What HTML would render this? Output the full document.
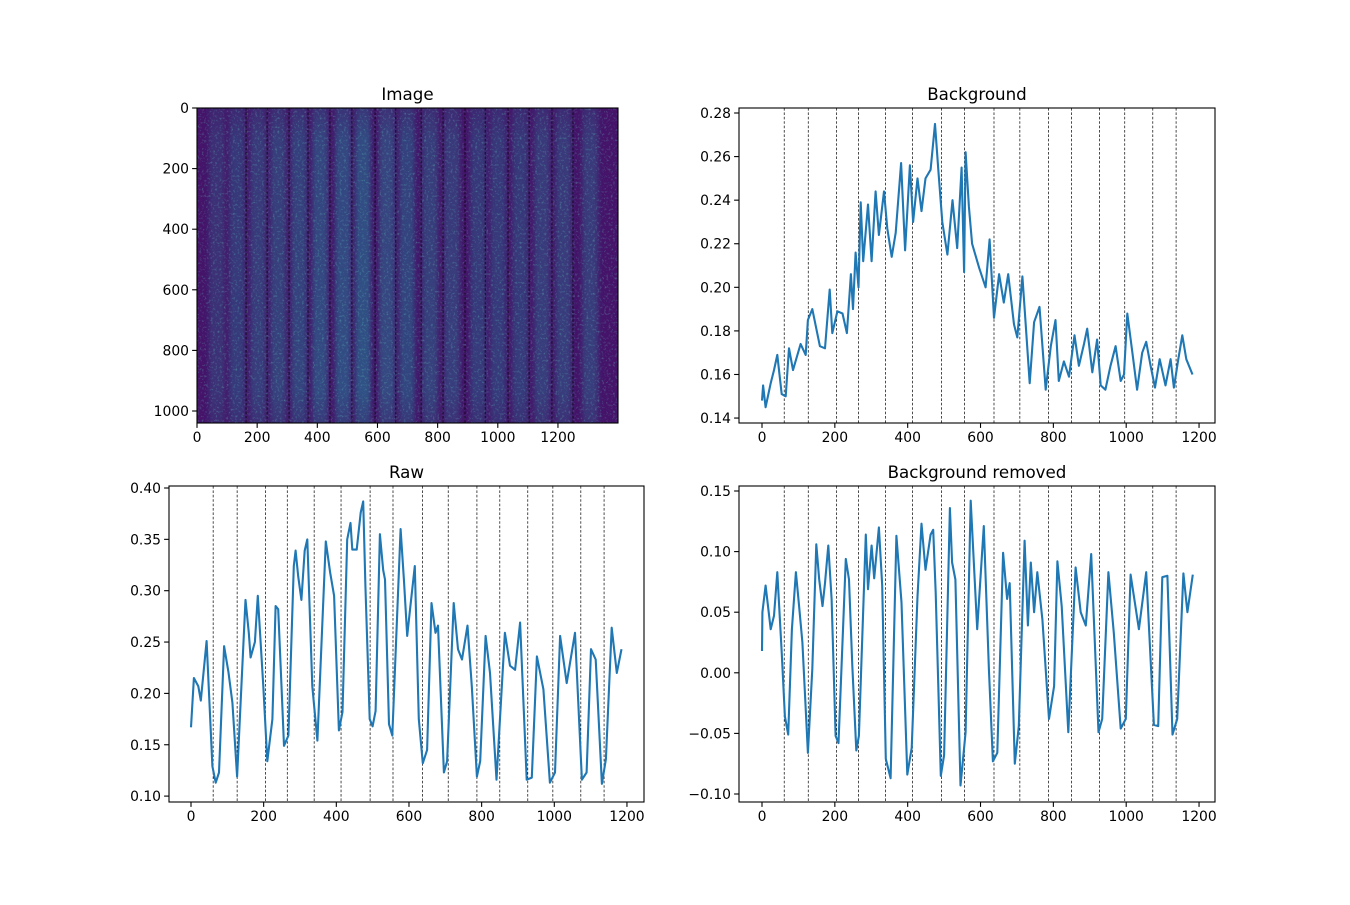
<!DOCTYPE html>
<html><head><meta charset="utf-8"><style>
body{margin:0;background:#fff}
svg text{font-family:"DejaVu Sans","Liberation Sans",sans-serif;fill:#000}
</style></head><body>
<svg id="fig" width="1350" height="900" viewBox="0 0 1350 900" xmlns="http://www.w3.org/2000/svg">
<defs>
<filter id="noise" x="0" y="0" width="100%" height="100%">
<feTurbulence type="fractalNoise" baseFrequency="0.45" numOctaves="2" seed="3"/>
<feColorMatrix type="matrix" values="0 0 0 0 0.15  0 0 0 0 0.65  0 0 0 0 0.55  0 0 0 2.6 -1.4"/>
</filter>
<filter id="soft" x="-10%" y="0" width="120%" height="100%"><feGaussianBlur stdDeviation="2.5 0"/></filter>
<clipPath id="imgclip"><rect x="197" y="108" width="421" height="315"/></clipPath>
<linearGradient id="vfade" x1="0" y1="0" x2="0" y2="1">
<stop offset="0" stop-color="#fff" stop-opacity="0.55"/><stop offset="0.1" stop-color="#fff" stop-opacity="0.9"/>
<stop offset="0.9" stop-color="#fff" stop-opacity="1"/><stop offset="1" stop-color="#fff" stop-opacity="0.7"/>
</linearGradient>
<mask id="bandmask"><rect x="197" y="108" width="421" height="315" fill="url(#vfade)"/></mask>
</defs>
<g id="root"></g>
</svg>
<script>
// ---- data ----
const imgBandCenters=[66,133,203,270,339,409,485,552,631,698,775,848,934,1001,1074,1147,1218,1307];
const imgBandLevels=[0.25,0.4,0.45,0.5,0.55,0.7,0.75,0.8,0.65,0.6,0.5,0.45,0.4,0.4,0.4,0.45,0.45,0.45];
const imgLines=[163,233,306,369,442,515,592,661,745,818,891,958,1034,1104,1180,1250];
const dataLines=[61,127,205,265,339,413,493,556,637,708,787,850,927,996,1073,1137];
const xTicks=[0,200,400,600,800,1000,1200];
const imgYTicks=[0,200,400,600,800,1000];
const bgTicks=[0.14,0.16,0.18,0.20,0.22,0.24,0.26,0.28];
const rawTicks=[0.10,0.15,0.20,0.25,0.30,0.35,0.40];
const remTicks=[-0.10,-0.05,0.00,0.05,0.10,0.15];

const rawX=[0,8,20,27,43,59,68,77,91,103,114,127,150,159,164,176,184,199,210,224,233,240,249,256,268,283,288,295,304,313,320,334,348,371,383,394,407,417,430,439,444,456,467,474,480,492,500,508,520,529,534,545,554,577,586,595,604,616,627,638,650,662,673,680,696,705,723,735,746,761,773,787,796,811,823,841,864,878,892,906,924,938,952,970,988,1002,1016,1034,1057,1076,1089,1101,1114,1131,1142,1158,1172,1185];
const rawY=[0.167,0.215,0.207,0.193,0.251,0.129,0.113,0.123,0.246,0.221,0.191,0.119,0.291,0.259,0.235,0.250,0.295,0.207,0.134,0.175,0.285,0.282,0.207,0.149,0.159,0.324,0.339,0.314,0.291,0.339,0.350,0.207,0.154,0.348,0.318,0.295,0.164,0.182,0.350,0.366,0.340,0.340,0.376,0.387,0.305,0.175,0.168,0.183,0.355,0.320,0.311,0.170,0.159,0.360,0.311,0.256,0.285,0.324,0.175,0.132,0.145,0.288,0.259,0.266,0.123,0.134,0.288,0.243,0.233,0.266,0.207,0.119,0.134,0.256,0.220,0.116,0.259,0.227,0.223,0.269,0.116,0.118,0.236,0.204,0.113,0.123,0.256,0.210,0.259,0.116,0.123,0.243,0.233,0.112,0.136,0.264,0.220,0.243];

const bgX=[0,3,10,24,33,42,54,65,74,85,106,120,126,138,159,173,186,193,207,221,233,244,250,257,265,271,278,291,301,312,321,335,344,356,367,382,393,406,415,427,438,449,463,475,484,495,509,523,536,548,555,559,568,577,596,614,625,637,651,664,676,692,701,715,724,735,747,762,779,793,806,815,829,843,858,870,884,893,907,920,930,943,957,971,985,994,1003,1017,1030,1044,1055,1067,1079,1092,1108,1122,1131,1143,1154,1165,1182];
const bgY=[0.148,0.155,0.145,0.156,0.162,0.169,0.151,0.150,0.172,0.162,0.174,0.169,0.185,0.190,0.173,0.172,0.199,0.179,0.189,0.188,0.179,0.206,0.190,0.216,0.200,0.239,0.212,0.238,0.212,0.244,0.224,0.244,0.227,0.214,0.225,0.257,0.217,0.256,0.230,0.250,0.235,0.250,0.254,0.275,0.254,0.230,0.215,0.240,0.218,0.255,0.207,0.262,0.237,0.220,0.209,0.200,0.222,0.186,0.206,0.193,0.206,0.183,0.177,0.205,0.183,0.156,0.184,0.191,0.153,0.173,0.185,0.157,0.166,0.159,0.178,0.164,0.174,0.181,0.161,0.176,0.155,0.153,0.164,0.173,0.157,0.160,0.188,0.170,0.153,0.170,0.175,0.164,0.154,0.167,0.155,0.167,0.154,0.167,0.178,0.167,0.160];

const remX=[0,1,10,24,33,42,54,63,72,82,93,102,111,126,138,149,157,166,173,182,191,202,210,230,239,248,259,266,285,291,301,308,321,330,340,353,369,383,399,411,427,438,449,463,470,477,491,500,516,522,531,545,559,573,591,609,623,634,646,662,673,680,694,705,721,730,738,747,756,770,788,802,811,823,841,861,875,889,904,924,934,951,966,985,999,1012,1035,1055,1076,1088,1099,1113,1127,1140,1157,1168,1183];
const remY=[0.018,0.050,0.072,0.036,0.047,0.083,0.017,-0.036,-0.051,0.036,0.083,0.055,0.025,-0.066,0.003,0.106,0.077,0.055,0.074,0.105,0.061,-0.052,-0.058,0.094,0.077,0.006,-0.064,-0.052,0.114,0.069,0.105,0.078,0.120,0.072,-0.071,-0.087,0.113,0.058,-0.084,-0.062,0.063,0.123,0.085,0.114,0.118,0.066,-0.085,-0.068,0.136,0.091,0.077,-0.093,-0.049,0.142,0.036,0.121,0.003,-0.073,-0.066,0.099,0.061,0.074,-0.075,-0.044,0.109,0.039,0.091,0.050,0.083,0.044,-0.038,-0.011,0.092,0.055,-0.049,0.087,0.050,0.039,0.098,-0.049,-0.038,0.083,0.033,-0.046,-0.038,0.081,0.036,0.083,-0.043,-0.044,0.079,0.080,-0.051,-0.038,0.082,0.050,0.081];

// ---- rendering ----
const NS='http://www.w3.org/2000/svg';
const root=document.getElementById('root');
function mk(tag,attrs,parent){const e=document.createElementNS(NS,tag);for(const k in attrs)e.setAttribute(k,attrs[k]);(parent||root).appendChild(e);return e;}
function fmt(v,d){const s=Math.abs(v).toFixed(d);return (v<-1e-9?'\u2212':'')+s;}

function axes(name,x0,y0,w,h,sx,sy,xt,yt,yd,title){
  const g=mk('g',{});
  
  
  return {g,x0,y0,w,h,sx,sy,xt,yt,yd,title};
}
function decorate(a){
  const frame=mk('rect',{x:a.x0,y:a.y0,width:a.w,height:a.h,fill:'none',stroke:'#000','stroke-width':1.1},a.g);
  
  
  a.xt.forEach(v=>{const x=a.sx(v);
    mk('line',{x1:x,x2:x,y1:a.y0+a.h,y2:a.y0+a.h+4.9,stroke:'#000','stroke-width':1.1},a.g);
    const t=mk('text',{x:x,y:a.y0+a.h+19,'text-anchor':'middle','font-size':'13.9'},a.g);t.textContent=String(v);
    
    });
  a.yt.forEach(v=>{const y=a.sy(v);
    mk('line',{x1:a.x0-4.9,x2:a.x0,y1:y,y2:y,stroke:'#000','stroke-width':1.1},a.g);
    const t=mk('text',{x:a.x0-8,y:y+5,'text-anchor':'end','font-size':'13.9'},a.g);t.textContent=a.yd==null?String(v):fmt(v,a.yd);
    
    });
  const tt=mk('text',{x:a.x0+a.w/2,y:a.y0-8,'text-anchor':'middle','font-size':'16.7'},a.g);tt.textContent=a.title;
  
  
}
function vlines(a,arr){
  arr.forEach(v=>{const x=a.sx(v);
    const l=mk('line',{x1:x,x2:x,y1:a.y0,y2:a.y0+a.h,stroke:'#000','stroke-width':0.7,'stroke-dasharray':'2.6,1.8'},a.g);
    
    });
}
function series(a,xs,ys,name){
  const d=xs.map((x,i)=>(i?'L':'M')+a.sx(x).toFixed(1)+','+a.sy(ys[i]).toFixed(1)).join('');
  const p=mk('path',{d:d,fill:'none',stroke:'#1f77b4','stroke-width':2.1,'stroke-linejoin':'round'},a.g);
  
  
}

// Image panel
const A1=axes('image-panel',197,108,421,315,v=>197+v*0.3008,v=>108+v*0.303,xTicks,imgYTicks,null,'Image');
const ig=mk('g',{'clip-path':'url(#imgclip)'},A1.g);


mk('rect',{x:197,y:108,width:421,height:315,fill:'#45146a'},ig);
const bands=mk('g',{mask:'url(#bandmask)',filter:'url(#soft)'},ig);
imgBandCenters.forEach((c,i)=>{
  const r=mk('rect',{x:A1.sx(c-26),y:108,width:52*0.3008,height:315,fill:'#2c5f8b',opacity:(0.25+imgBandLevels[i]*0.7).toFixed(2)},bands);
  
  
});
mk('rect',{x:197,y:108,width:421,height:315,filter:'url(#noise)',opacity:0.4},ig);
imgLines.forEach(v=>{const x=A1.sx(v);
  const l=mk('line',{x1:x,x2:x,y1:108,y2:423,stroke:'#000','stroke-width':0.7,'stroke-dasharray':'2.6,1.8'},A1.g);
  
  });
decorate(A1);

// Background panel
const A2=axes('background-panel',739,108,476,315,v=>762+v*0.3642,v=>113+(0.28-v)*2179,xTicks,bgTicks,2,'Background');
vlines(A2,dataLines);series(A2,bgX,bgY,'background-line');decorate(A2);

// Raw panel
const A3=axes('raw-panel',169,486,475,316,v=>191+v*0.3633,v=>488+(0.40-v)*1027,xTicks,rawTicks,2,'Raw');
vlines(A3,dataLines);series(A3,rawX,rawY,'raw-line');decorate(A3);

// Removed panel
const A4=axes('background-removed-panel',739,486,476,316,v=>762+v*0.3642,v=>491+(0.15-v)*1212,xTicks,remTicks,2,'Background removed');
vlines(A4,dataLines);series(A4,remX,remY,'background-removed-line');decorate(A4);
</script>
</body></html>
